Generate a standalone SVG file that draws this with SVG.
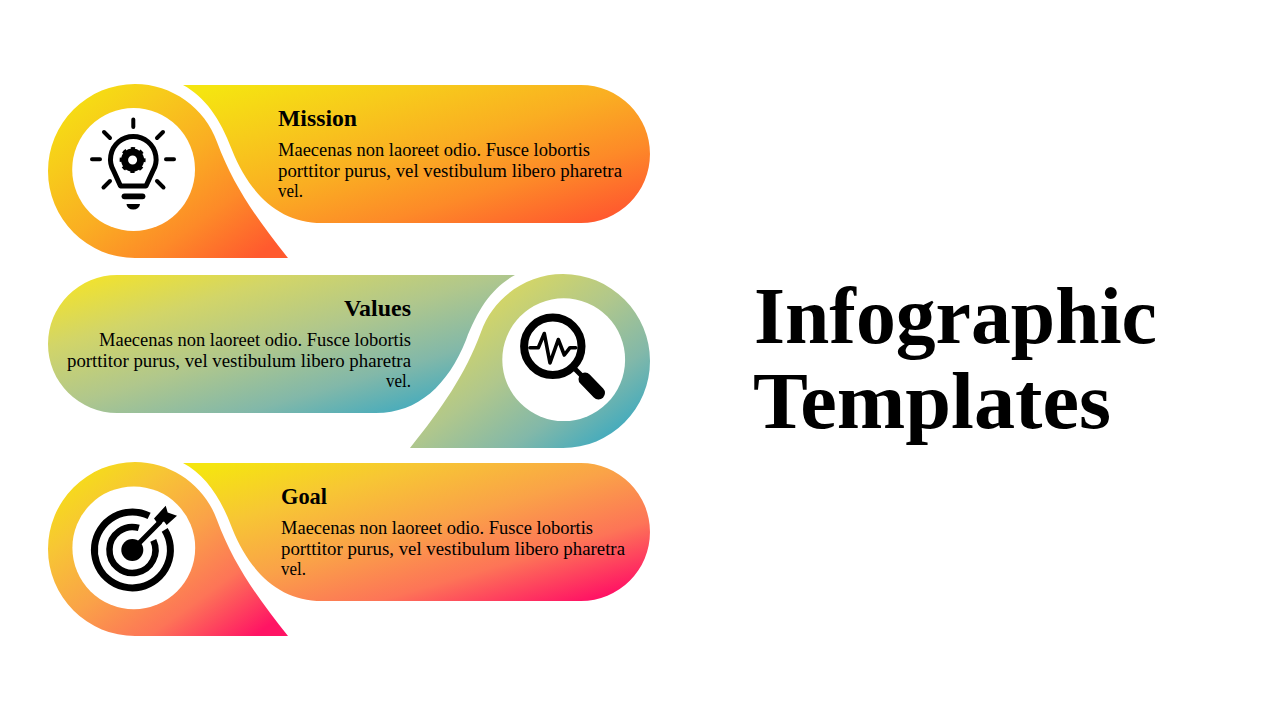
<svg xmlns="http://www.w3.org/2000/svg" xmlns:xlink="http://www.w3.org/1999/xlink" width="1280" height="720" viewBox="0 0 1280 720">
<style>
text{font-family:"Liberation Serif","Times New Roman",serif;fill:#000}
.h{font-size:23.5px;font-weight:700}
.b{font-size:18.5px}
.t{font-size:80px;font-weight:700}
.r{text-anchor:end}
.disc{fill:#fff}
.ln{fill:none;stroke:#000;stroke-linecap:round;stroke-linejoin:round}
.k{fill:#000}
</style>
<defs>
<linearGradient id="gA" x1="0" y1="0" x2="1" y2="1"><stop offset="0.04" stop-color="#F5E510"/><stop offset="0.26" stop-color="#F7CB1B"/><stop offset="0.49" stop-color="#FAAE22"/><stop offset="0.71" stop-color="#FD8A28"/><stop offset="0.93" stop-color="#FF5A2E"/></linearGradient>
<linearGradient id="gB" x1="0" y1="0" x2="1" y2="1"><stop offset="0.04" stop-color="#F3E32A"/><stop offset="0.26" stop-color="#D2D568"/><stop offset="0.49" stop-color="#B0C78C"/><stop offset="0.71" stop-color="#82B8A9"/><stop offset="0.93" stop-color="#35A8C2"/></linearGradient>
<linearGradient id="gC" x1="0" y1="0" x2="1" y2="1"><stop offset="0.04" stop-color="#F5E510"/><stop offset="0.26" stop-color="#F7C634"/><stop offset="0.49" stop-color="#FAA248"/><stop offset="0.71" stop-color="#FD7457"/><stop offset="0.93" stop-color="#FF1464"/></linearGradient>
<path id="drop" d="M135 84A87 87 0 0 0 135 258H288C256 218 233 185 217 142C205 108 172 84 135 84Z"/>
<path id="bar" d="M183 85H581A69 69 0 0 1 581 223H322C280 223 250 195 232 150C220 118 205 97 183 85Z"/>
</defs>
<rect width="1280" height="720" fill="#fff"/>
<g id="node-mission">
<use xlink:href="#drop" href="#drop" fill="url(#gA)"/>
<use xlink:href="#bar" href="#bar" fill="url(#gA)"/>
<circle class="disc" cx="133.6" cy="169.5" r="61.4"/>
<g id="icon-bulb">
<path class="ln" stroke-width="4" d="M133.3 119.500V127M92 159.300H100M166 159.300H174M104 132L110 138M163 132L157 138M103.500 187.500L110 181M163.500 187.500L157 181"/>
<path class="ln" stroke-width="5" d="M120.500 186L113.700 171A22.800 22.800 0 1 1 152.900 171L146 186Z"/>
<path class="ln" stroke-width="5.800" d="M124.500 196.300H142.500"/>
<path class="k" d="M126.500 204H140A6.700 5.500 0 0 1 126.500 204Z"/>
<circle cx="132.600" cy="160" r="8" fill="none" stroke="#000" stroke-width="7"/>
<circle cx="132.600" cy="160" r="11.500" fill="none" stroke="#000" stroke-width="3" stroke-dasharray="4.200 4.830" stroke-dashoffset="2.100"/>
</g>
<text class="h" x="278" y="126" textLength="79" lengthAdjust="spacingAndGlyphs">Mission</text>
<text class="b" x="278" y="156" textLength="312" lengthAdjust="spacingAndGlyphs">Maecenas non laoreet odio. Fusce lobortis</text>
<text class="b" x="278" y="176.500" textLength="344" lengthAdjust="spacingAndGlyphs">porttitor purus, vel vestibulum libero pharetra</text>
<text class="b" x="278" y="197" textLength="25" lengthAdjust="spacingAndGlyphs">vel.</text>
</g>
<g id="node-values">
<path fill="url(#gB)" d="M563 274A87 87 0 0 1 563 448H410C442 408 465 375 481 332C493 298 526 274 563 274Z"/>
<path fill="url(#gB)" d="M515 275H117A69 69 0 0 0 117 413H376C418 413 448 385 466 340C478 308 493 287 515 275Z"/>
<circle class="disc" cx="563.7" cy="359.700" r="61.4"/>
<g id="icon-magnifier">
<circle class="ln" cx="552.800" cy="346.300" r="28.700" stroke-width="8"/>
<path class="ln" stroke-width="5" d="M573 367L586 380"/>
<path class="ln" stroke-width="13" d="M585 379L598.500 393"/>
<path class="ln" stroke-width="3.600" stroke-linecap="butt" d="M530 347.700H538.300L544.300 333.500L550 363L558.300 339.500L564.300 355L570 347.700H575.700"/>
</g>
<text class="h r" x="411" y="316" textLength="67" lengthAdjust="spacingAndGlyphs">Values</text>
<text class="b r" x="411" y="346" textLength="312" lengthAdjust="spacingAndGlyphs">Maecenas non laoreet odio. Fusce lobortis</text>
<text class="b r" x="411" y="366.500" textLength="344" lengthAdjust="spacingAndGlyphs">porttitor purus, vel vestibulum libero pharetra</text>
<text class="b r" x="411" y="387" textLength="25" lengthAdjust="spacingAndGlyphs">vel.</text>
</g>
<g id="node-goal">
<use xlink:href="#drop" href="#drop" fill="url(#gC)" transform="translate(0 378)"/>
<use xlink:href="#bar" href="#bar" fill="url(#gC)" transform="translate(0 378)"/>
<circle class="disc" cx="133.800" cy="547.800" r="61.4"/>
<g id="icon-target">
<path fill="none" stroke="#000" stroke-width="7" d="M149.100 515.800A38 38 0 1 0 164.700 529.900"/>
<path fill="none" stroke="#000" stroke-width="6.500" d="M138.800 527.900A23 23 0 1 0 153.300 540.300"/>
<circle class="k" cx="132.300" cy="550" r="11"/>
<path class="ln" stroke-width="5" stroke-linecap="butt" d="M132.300 550L160 522"/>
<path class="k" d="M154 518.500L165.700 505.700L167.700 512.500L177 515.700L166.700 525L164 521.500L158 524Z"/>
</g>
<text class="h" x="281" y="504" textLength="46" lengthAdjust="spacingAndGlyphs">Goal</text>
<text class="b" x="281" y="534" textLength="312" lengthAdjust="spacingAndGlyphs">Maecenas non laoreet odio. Fusce lobortis</text>
<text class="b" x="281" y="554.500" textLength="344" lengthAdjust="spacingAndGlyphs">porttitor purus, vel vestibulum libero pharetra</text>
<text class="b" x="281" y="575" textLength="25" lengthAdjust="spacingAndGlyphs">vel.</text>
</g>
<g id="title">
<text class="t" x="754" y="343" textLength="403" lengthAdjust="spacingAndGlyphs">Infographic</text>
<text class="t" x="753" y="428" textLength="358" lengthAdjust="spacingAndGlyphs">Templates</text>
</g>
<g id="connectors"/>
</svg>
